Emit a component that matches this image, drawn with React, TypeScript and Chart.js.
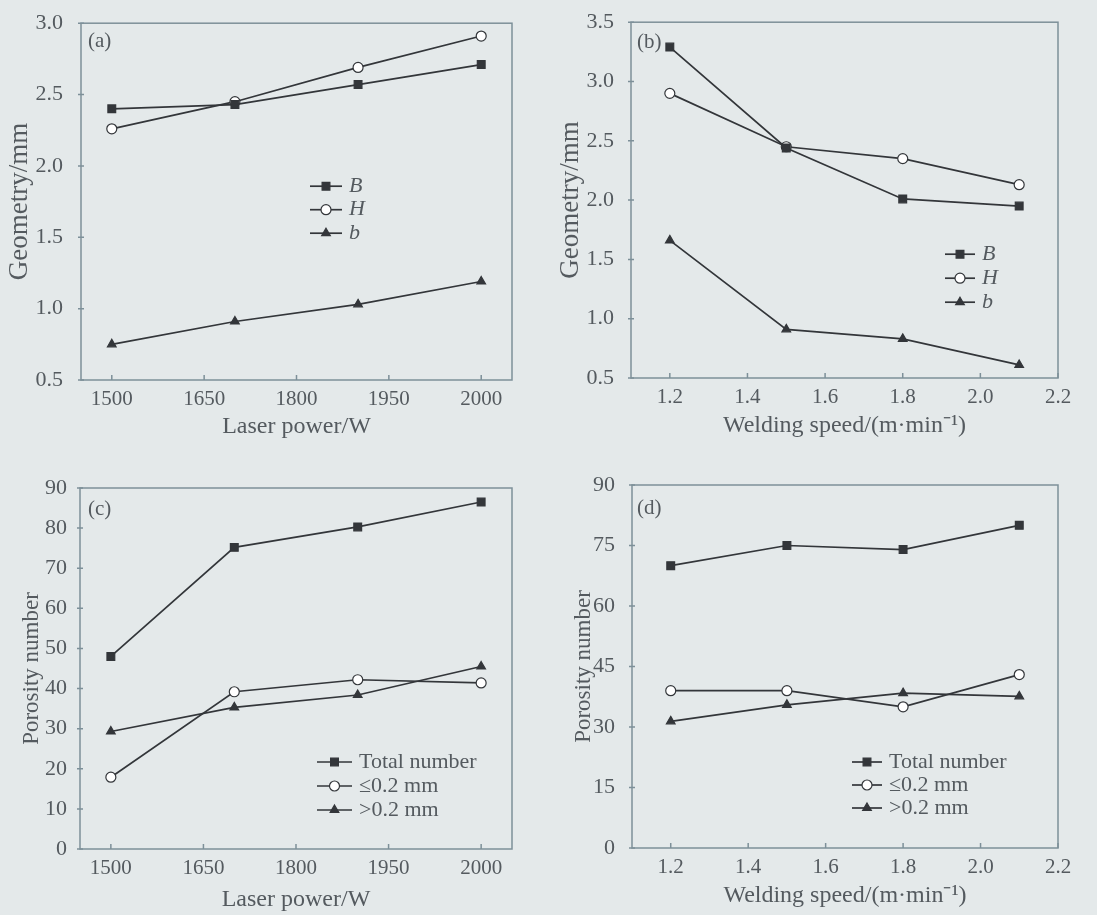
import React, { useEffect, useRef } from 'react';
import { Chart, registerables } from 'chart.js';

Chart.register(...registerables);

// ---- data ----
const powerX = [1500, 1700, 1900, 2100];
const speedX = [1.2, 1.5, 1.8, 2.1];

const powerTickValues = [1500, 1650, 1800, 1950, 2100];
const powerTickLabels = ['1500', '1650', '1800', '1950', '2000'];
const speedTickValues = [1.2, 1.4, 1.6, 1.8, 2.0, 2.2];
const geomATicks = [0.5, 1.0, 1.5, 2.0, 2.5, 3.0];
const geomBTicks = [0.5, 1.0, 1.5, 2.0, 2.5, 3.0, 3.5];
const porCTicks = [0, 10, 20, 30, 40, 50, 60, 70, 80, 90];
const porDTicks = [0, 15, 30, 45, 60, 75, 90];

const geomLabels = ['B', 'H', 'b'];
const porLabels = ['Total number', '≤0.2 mm', '>0.2 mm'];

const aB = [2.4, 2.43, 2.57, 2.71];
const aH = [2.26, 2.45, 2.69, 2.91];
const ab = [0.75, 0.91, 1.03, 1.19];

const bB = [3.29, 2.44, 2.01, 1.95];
const bH = [2.9, 2.45, 2.35, 2.13];
const bb = [1.66, 0.91, 0.83, 0.61];

const cTotal = [48, 75.2, 80.3, 86.5];
const cSmall = [17.9, 39.2, 42.2, 41.4];
const cLarge = [29.3, 35.3, 38.4, 45.5];

const dTotal = [70, 75, 74, 80];
const dSmall = [39, 39, 35, 43];
const dLarge = [31.4, 35.5, 38.4, 37.6];

// ---- style ----
const FONT = '"Liberation Serif", "Times New Roman", serif';
const TEXT = '#545a5f';
const AXIS = '#7d9099';
const LINE = '#33363a';
const BG = '#e4e9ea';

const markerStyles = ['rect', 'circle', 'triangle'];
const markerFill = [LINE, '#ffffff', LINE];

function drawMarker(ctx: CanvasRenderingContext2D, style: string, x: number, y: number, r: number, fill: string) {
  ctx.save();
  ctx.fillStyle = fill;
  ctx.strokeStyle = LINE;
  ctx.lineWidth = 1.2;
  ctx.beginPath();
  if (style === 'rect') {
    const s = r * Math.SQRT1_2;
    ctx.rect(x - s, y - s, 2 * s, 2 * s);
  } else if (style === 'circle') {
    ctx.arc(x, y, r, 0, Math.PI * 2);
  } else {
    ctx.moveTo(x, y - r);
    ctx.lineTo(x + r * 0.866, y + r * 0.5);
    ctx.lineTo(x - r * 0.866, y + r * 0.5);
    ctx.closePath();
  }
  ctx.fill();
  ctx.stroke();
  ctx.restore();
}

const decorPlugin = {
  id: 'panelDecor',
  afterDatasetsDraw(chart: any, _args: any, opts: any) {
    const ctx: CanvasRenderingContext2D = chart.ctx;
    const a = chart.chartArea;
    ctx.save();
    // frame
    ctx.strokeStyle = AXIS;
    ctx.lineWidth = 1.5;
    ctx.strokeRect(a.left, a.top, a.right - a.left, a.bottom - a.top);
    // inward ticks
    const xs = chart.scales.x;
    const ys = chart.scales.y;
    ctx.beginPath();
    xs.ticks.forEach((t: any) => {
      const p = xs.getPixelForValue(t.value);
      ctx.moveTo(p, a.bottom);
      ctx.lineTo(p, a.bottom - 5);
    });
    ys.ticks.forEach((t: any) => {
      const p = ys.getPixelForValue(t.value);
      ctx.moveTo(a.left - 3, p);
      ctx.lineTo(a.left + 3, p);
    });
    ctx.stroke();
    // panel label
    ctx.fillStyle = TEXT;
    ctx.font = `21px ${FONT}`;
    ctx.textBaseline = 'middle';
    ctx.textAlign = 'left';
    ctx.fillText(opts.label, a.left + opts.labelX, a.top + opts.labelY);
    // legend
    chart.data.datasets.forEach((ds: any, i: number) => {
      const y = a.top + opts.legendY + i * opts.rowH;
      const x0 = a.left + opts.legendX;
      ctx.strokeStyle = LINE;
      ctx.lineWidth = 1.7;
      ctx.beginPath();
      ctx.moveTo(x0, y);
      ctx.lineTo(x0 + opts.lineLen, y);
      ctx.stroke();
      drawMarker(ctx, ds.pointStyle, x0 + opts.lineLen / 2, y, ds.pointRadius, ds.pointBackgroundColor);
      ctx.fillStyle = TEXT;
      ctx.font = `${opts.italic ? 'italic ' : ''}22px ${FONT}`;
      ctx.fillText(ds.label, x0 + opts.lineLen + 7, y);
    });
    ctx.restore();
  },
};

function makeDatasets(xs: number[], series: number[][], labels: string[]) {
  return series.map((vals, i) => ({
    label: labels[i],
    data: xs.map((x, j) => ({ x, y: vals[j] })),
    borderColor: LINE,
    borderWidth: 1.7,
    pointStyle: markerStyles[i],
    pointRadius: i === 0 ? 5.5 : 5,
    pointBackgroundColor: markerFill[i],
    pointBorderColor: LINE,
    pointBorderWidth: 1.2,
    tension: 0,
    fill: false,
  }));
}

type Panel = {
  left: number; top: number; w: number; h: number;
  padTop: number; padRight: number; yW: number; xH: number;
  xMin: number; xMax: number; xTicks: number[]; xLabels: string[];
  yMin: number; yMax: number; yTicks: number[]; yDigits: number;
  xTitle: string; yTitle: string; xTitlePad: number; yTitlePad: number; yTickPad: number; yTitleSize: number;
  xs: number[]; series: number[][]; labels: string[];
  decor: any;
};

const panels: Panel[] = [
  {
    left: 0, top: 0, w: 548, h: 445, padTop: 17, padRight: 36, yW: 81, xH: 65,
    xMin: 1450, xMax: 2150, xTicks: powerTickValues, xLabels: powerTickLabels,
    yMin: 0.5, yMax: 3.0, yTicks: geomATicks, yDigits: 1,
    xTitle: 'Laser power/W', yTitle: 'Geometry/mm', xTitlePad: 4, yTitlePad: 4, yTickPad: 10, yTitleSize: 27,
    xs: powerX, series: [aB, aH, ab], labels: geomLabels,
    decor: { label: '(a)', labelX: 7, labelY: 18, legendX: 229, legendY: 163, rowH: 23.5, lineLen: 32, italic: true },
  },
  {
    left: 548, top: 0, w: 549, h: 445, padTop: 17, padRight: 39, yW: 83, xH: 67,
    xMin: 1.1, xMax: 2.2, xTicks: speedTickValues, xLabels: speedTickValues.map((v) => v.toFixed(1)),
    yMin: 0.5, yMax: 3.5, yTicks: geomBTicks, yDigits: 1,
    xTitle: 'Welding speed/(m·min⁻¹)', yTitle: 'Geometry/mm', xTitlePad: 5, yTitlePad: 7, yTickPad: 9, yTitleSize: 27,
    xs: speedX, series: [bB, bH, bb], labels: geomLabels,
    decor: { label: '(b)', labelX: 6, labelY: 20, legendX: 314, legendY: 232, rowH: 24, lineLen: 30, italic: true },
  },
  {
    left: 0, top: 445, w: 548, h: 470, padTop: 43, padRight: 36, yW: 80, xH: 66,
    xMin: 1450, xMax: 2150, xTicks: powerTickValues, xLabels: powerTickLabels,
    yMin: 0, yMax: 90, yTicks: porCTicks, yDigits: 0,
    xTitle: 'Laser power/W', yTitle: 'Porosity number', xTitlePad: 1, yTitlePad: 18, yTickPad: 5, yTitleSize: 23,
    xs: powerX, series: [cTotal, cSmall, cLarge], labels: porLabels,
    decor: { label: '(c)', labelX: 8, labelY: 21, legendX: 237, legendY: 274, rowH: 24, lineLen: 35, italic: false },
  },
  {
    left: 548, top: 445, w: 549, h: 470, padTop: 40, padRight: 39, yW: 84, xH: 67,
    xMin: 1.1, xMax: 2.2, xTicks: speedTickValues, xLabels: speedTickValues.map((v) => v.toFixed(1)),
    yMin: 0, yMax: 90, yTicks: porDTicks, yDigits: 0,
    xTitle: 'Welding speed/(m·min⁻¹)', yTitle: 'Porosity number', xTitlePad: 5, yTitlePad: 22, yTickPad: 9, yTitleSize: 23,
    xs: speedX, series: [dTotal, dSmall, dLarge], labels: porLabels,
    decor: { label: '(d)', labelX: 5, labelY: 23, legendX: 220, legendY: 277, rowH: 23, lineLen: 30, italic: false },
  },
];

function PanelChart({ p }: { p: Panel }) {
  const ref = useRef<HTMLCanvasElement | null>(null);
  useEffect(() => {
    if (!ref.current) return;
    const chart = new Chart(ref.current, {
      type: 'line',
      data: { datasets: makeDatasets(p.xs, p.series, p.labels) as any },
      options: {
        animation: false,
        responsive: false,
        devicePixelRatio: 1,
        layout: { padding: { top: p.padTop, right: p.padRight, left: 0, bottom: 0 } },
        plugins: {
          legend: { display: false },
          tooltip: { enabled: false },
          panelDecor: p.decor,
        } as any,
        scales: {
          x: {
            type: 'linear',
            min: p.xMin,
            max: p.xMax,
            grid: { display: false },
            border: { display: false },
            afterBuildTicks: (s: any) => { s.ticks = p.xTicks.map((v) => ({ value: v })); },
            afterFit: (s: any) => { s.height = p.xH; },
            ticks: {
              autoSkip: false,
              maxRotation: 0,
              padding: -1,
              color: TEXT,
              font: { family: FONT, size: 21 },
              callback: (_v: any, i: number) => p.xLabels[i],
            },
            title: {
              display: true,
              text: p.xTitle,
              color: TEXT,
              font: { family: FONT, size: 24 },
              padding: { top: 0, bottom: p.xTitlePad },
            },
          },
          y: {
            type: 'linear',
            min: p.yMin,
            max: p.yMax,
            grid: { display: false },
            border: { display: false },
            afterBuildTicks: (s: any) => { s.ticks = p.yTicks.map((v) => ({ value: v })); },
            afterFit: (s: any) => { s.width = p.yW; },
            ticks: {
              autoSkip: false,
              padding: p.yTickPad,
              color: TEXT,
              font: { family: FONT, size: 22 },
              callback: (v: any) => Number(v).toFixed(p.yDigits),
            },
            title: {
              display: true,
              text: p.yTitle,
              color: TEXT,
              font: { family: FONT, size: p.yTitleSize },
              padding: { top: p.yTitlePad, bottom: 0 },
            },
          },
        },
      },
      plugins: [decorPlugin as any],
    });
    return () => chart.destroy();
  }, [p]);
  return (
    <canvas
      ref={ref}
      width={p.w}
      height={p.h}
      style={{ position: 'absolute', left: p.left, top: p.top, width: p.w, height: p.h }}
    />
  );
}

export default function App() {
  return (
    <div style={{ position: 'absolute', left: 0, top: 0, width: 1097, height: 915, background: BG, overflow: 'hidden' }}>
      {panels.map((p, i) => (
        <PanelChart key={i} p={p} />
      ))}
    </div>
  );
}
